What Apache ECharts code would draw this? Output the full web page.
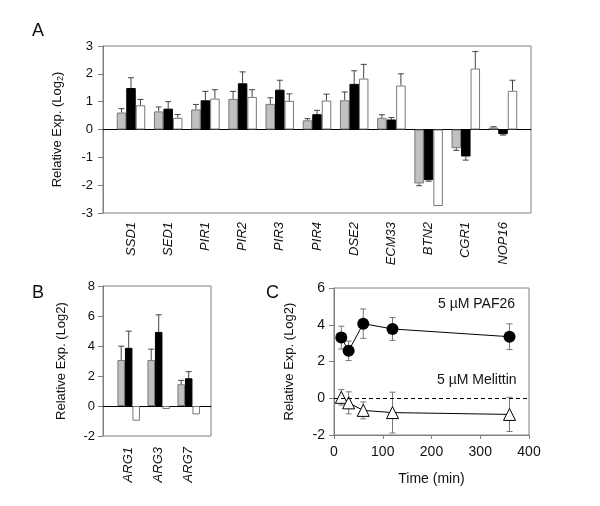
<!DOCTYPE html>
<html>
<head>
<meta charset="utf-8">
<script src="https://cdn.jsdelivr.net/npm/echarts@6/dist/echarts.min.js"></script>
<style>
html, body { margin: 0; padding: 0; background: #fff; }
#box { width: 600px; height: 506px; }
</style>
</head>
<body>
<div id="box"></div>
<script>
// panel A
var genesA = ['SSD1', 'SED1', 'PIR1', 'PIR2', 'PIR3', 'PIR4', 'DSE2', 'ECM33', 'BTN2', 'CGR1', 'NOP16']
var grayA = [0.61, 0.65, 0.72, 1.10, 0.92, 0.33, 1.05, 0.42, -1.94, -0.67, 0.07]
var grayErrA = [0.14, 0.16, 0.18, 0.27, 0.22, 0.06, 0.30, 0.11, 0.08, 0.08, 0.03]
var blackA = [1.49, 0.75, 1.05, 1.66, 1.43, 0.55, 1.64, 0.36, -1.82, -0.97, -0.17]
var blackErrA = [0.37, 0.25, 0.32, 0.41, 0.34, 0.14, 0.47, 0.07, 0.04, 0.13, 0.03]
var whiteA = [0.87, 0.42, 1.11, 1.17, 1.03, 1.04, 1.83, 1.58, -2.75, 2.19, 1.39]
var whiteErrA = [0.21, 0.12, 0.32, 0.26, 0.25, 0.23, 0.51, 0.42, 0, 0.61, 0.38]

// panel B
var genesB = ['ARG1', 'ARG3', 'ARG7']
var grayB = [3.07, 3.07, 1.45]
var grayErrB = [0.92, 0.72, 0.26]
var blackB = [3.88, 4.94, 1.85]
var blackErrB = [1.11, 1.14, 0.44]
var whiteB = [-0.98, -0.20, -0.56]
var whiteErrB = [0, 0, 0]

// panel C
var timeC = [15, 30, 60, 120, 360]
var paf26 = [3.30, 2.58, 4.06, 3.77, 3.35]
var paf26Err = [0.62, 0.53, 0.80, 0.62, 0.70]
var melittin = [0.05, -0.25, -0.66, -0.78, -0.88]
var melittinErr = [0.42, 0.60, 0.46, 1.11, 0.93]

var font = 'Liberation Sans, Arial, sans-serif'
var txt = { color: '#111', fontFamily: font, fontSize: 13 }

function pairs(xs, ys, es) {
    return ys.map(function (v, i) { return [xs ? xs[i] : i, v, es[i]] })
}

// one-sided error bar, drawn away from zero, shifted to the bar's slot in its group
function barErr(slot, bw) {
    return function (params, api) {
        var v = api.value(1), e = api.value(2)
        if (!e) return
        var s = v < 0 ? -1 : 1
        var p0 = api.coord([api.value(0), v])
        var p1 = api.coord([api.value(0), v + s * e])
        var x = p0[0] + slot * bw
        var st = { stroke: '#444', lineWidth: 1 }
        return {
            type: 'group',
            children: [
                { type: 'line', shape: { x1: x, y1: p0[1], x2: x, y2: p1[1] }, style: st },
                { type: 'line', shape: { x1: x - 3, y1: p1[1], x2: x + 3, y2: p1[1] }, style: st }
            ]
        }
    }
}

// symmetric error bar for the time course
function lineErr(params, api) {
    var x = api.value(0), v = api.value(1), e = api.value(2)
    var hi = api.coord([x, v + e])
    var lo = api.coord([x, v - e])
    var st = { stroke: '#777', lineWidth: 1 }
    return {
        type: 'group',
        children: [
            { type: 'line', shape: { x1: hi[0], y1: hi[1], x2: lo[0], y2: lo[1] }, style: st },
            { type: 'line', shape: { x1: hi[0] - 3, y1: hi[1], x2: hi[0] + 3, y2: hi[1] }, style: st },
            { type: 'line', shape: { x1: lo[0] - 3, y1: lo[1], x2: lo[0] + 3, y2: lo[1] }, style: st }
        ]
    }
}

function frameX(grid) {
    return {
        gridIndex: grid, type: 'value', min: 0, max: 1,
        axisLine: { show: true, onZero: true, lineStyle: { color: '#000', width: 1 } },
        axisTick: { show: false }, axisLabel: { show: false }, splitLine: { show: false }
    }
}

function catX(grid, data, margin) {
    return {
        gridIndex: grid, type: 'category', data: data,
        axisLine: { show: false, onZero: false }, axisTick: { show: false },
        axisLabel: Object.assign({ rotate: 90, margin: margin, fontStyle: 'italic', interval: 0 }, txt)
    }
}

function valY(grid, min, max, step, name, gap, margin) {
    return {
        gridIndex: grid, type: 'value', min: min, max: max, interval: step,
        name: name, nameLocation: 'middle', nameGap: gap,
        nameTextStyle: Object.assign({ rich: { s: { fontSize: 9, verticalAlign: 'bottom', fontFamily: font, color: '#111', padding: [6, 0, 0, 0] } } }, txt),
        axisLine: { show: true, lineStyle: { color: '#808080' } },
        axisTick: { show: true, inside: false, length: 5, lineStyle: { color: '#808080' } },
        axisLabel: Object.assign({ margin: margin }, txt),
        splitLine: { show: false }
    }
}

function hiddenY(grid, min, max) {
    return { gridIndex: grid, type: 'value', min: min, max: max, show: false, splitLine: { show: false } }
}

function bars(xi, data, fill, border, bw) {
    return {
        type: 'bar', xAxisIndex: xi, yAxisIndex: xi, data: data,
        barWidth: bw, barGap: '0%',
        itemStyle: { color: fill, borderColor: border, borderWidth: 1 },
        z: 3
    }
}

function errs(xi, xs, vals, es, slot, bw) {
    return {
        type: 'custom', xAxisIndex: xi, yAxisIndex: xi,
        data: pairs(xs, vals, es), renderItem: barErr(slot, bw),
        encode: { x: 0, y: 1 }, z: 2
    }
}

var frame = { show: true, borderColor: '#808080', borderWidth: 1, backgroundColor: 'transparent' }

var chart = echarts.init(document.getElementById('box'))
var option = {
    backgroundColor: '#fff',
    animation: false,
    title: [
        { text: 'A', left: 27, top: 17, textStyle: { fontFamily: font, fontSize: 18, fontWeight: 'normal', color: '#111' } },
        { text: 'B', left: 27, top: 279, textStyle: { fontFamily: font, fontSize: 18, fontWeight: 'normal', color: '#111' } },
        { text: 'C', left: 261, top: 279, textStyle: { fontFamily: font, fontSize: 18, fontWeight: 'normal', color: '#111' } }
    ],
    grid: [
        Object.assign({ left: 103, top: 46, width: 428, height: 167 }, frame),
        { left: 112.4, top: 46, width: 409.2, height: 167 },
        Object.assign({ left: 103, top: 286, width: 108, height: 150 }, frame),
        { left: 113.7, top: 286, width: 90, height: 150 },
        Object.assign({ left: 334, top: 288, width: 195, height: 147 }, frame)
    ],
    xAxis: [
        frameX(0),
        catX(1, genesA, 9),
        frameX(2),
        catX(3, genesB, 11),
        {
            gridIndex: 4, type: 'value', min: 0, max: 400, interval: 100,
            name: 'Time (min)', nameLocation: 'middle', nameGap: 37,
            nameTextStyle: Object.assign({}, txt, { fontSize: 14 }),
            axisLine: { show: true, onZero: false, lineStyle: { color: '#808080' } },
            axisTick: { show: true, length: 4, lineStyle: { color: '#808080' } },
            axisLabel: Object.assign({ margin: 10 }, txt, { fontSize: 14 }),
            splitLine: { show: false }
        }
    ],
    yAxis: [
        valY(0, -3, 3, 1, 'Relative Exp. (Log{s|2})', 38, 10),
        hiddenY(1, -3, 3),
        valY(2, -2, 8, 2, 'Relative Exp. (Log2)', 35, 8),
        hiddenY(3, -2, 8),
        Object.assign(valY(4, -2, 6, 2, 'Relative Exp. (Log2)', 38, 9), {
            axisLabel: Object.assign({ margin: 9 }, txt, { fontSize: 14 })
        })
    ],
    graphic: [
        { type: 'text', left: 438, top: 297, style: { text: '5 \u00b5M PAF26', fill: '#111', font: '14px ' + font } },
        { type: 'text', left: 437, top: 373, style: { text: '5 \u00b5M Melittin', fill: '#111', font: '14px ' + font } }
    ],
    series: [
        bars(1, grayA, '#c0c0c0', '#777', 9.5),
        bars(1, blackA, '#000', '#000', 9.5),
        bars(1, whiteA, '#fff', '#777', 9.5),
        errs(1, null, grayA, grayErrA, -1, 9.5),
        errs(1, null, blackA, blackErrA, 0, 9.5),
        errs(1, null, whiteA, whiteErrA, 1, 9.5),

        bars(3, grayB, '#c0c0c0', '#777', 7.5),
        bars(3, blackB, '#000', '#000', 7.5),
        bars(3, whiteB, '#fff', '#777', 7.5),
        errs(3, null, grayB, grayErrB, -1, 7.5),
        errs(3, null, blackB, blackErrB, 0, 7.5),
        errs(3, null, whiteB, whiteErrB, 1, 7.5),

        {
            type: 'custom', xAxisIndex: 4, yAxisIndex: 4,
            data: pairs(timeC, paf26, paf26Err), renderItem: lineErr,
            encode: { x: 0, y: 1 }, z: 1
        },
        {
            type: 'custom', xAxisIndex: 4, yAxisIndex: 4,
            data: pairs(timeC, melittin, melittinErr), renderItem: lineErr,
            encode: { x: 0, y: 1 }, z: 1
        },
        {
            name: '5 \u00b5M PAF26', type: 'line', xAxisIndex: 4, yAxisIndex: 4,
            data: timeC.map(function (t, i) { return [t, paf26[i]] }),
            symbol: 'circle', symbolSize: 12,
            lineStyle: { color: '#000', width: 1 },
            itemStyle: { color: '#000' }, z: 3
        },
        {
            name: '5 \u00b5M Melittin', type: 'line', xAxisIndex: 4, yAxisIndex: 4,
            data: timeC.map(function (t, i) { return [t, melittin[i]] }),
            symbol: 'triangle', symbolSize: 12,
            lineStyle: { color: '#000', width: 1 },
            itemStyle: { color: '#fff', borderColor: '#000', borderWidth: 1 }, z: 3,
            markLine: {
                silent: true, symbol: 'none', label: { show: false },
                lineStyle: { type: [4, 3], color: '#000', width: 1 },
                data: [{ yAxis: 0 }]
            }
        }
    ]
}
chart.setOption(option)
</script>
</body>
</html>
